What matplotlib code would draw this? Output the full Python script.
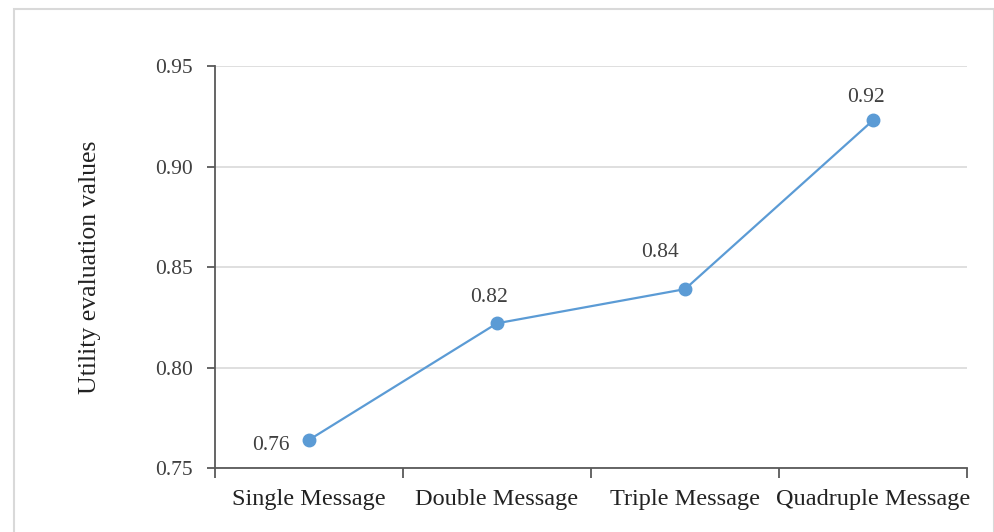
import matplotlib.pyplot as plt
from matplotlib.patches import Rectangle

categories = ["Single Message", "Double Message", "Triple Message", "Quadruple Message"]
utility = [0.764, 0.822, 0.839, 0.923]
y_ticks = [0.75, 0.80, 0.85, 0.90, 0.95]

# label offsets in pixels from each point
label_offsets = [(-38, -6), (-8, 26), (-25, 37), (-7, 23)]

plt.rcParams['font.family'] = ['Liberation Serif', 'DejaVu Serif']

fig = plt.figure(figsize=(9.95, 5.32), dpi=100)
ax = fig.add_axes([0.2161, 0.1203, 0.7558, 0.7556])

# outer chart frame
fig.patches.append(Rectangle((14 / 995, -0.05), 980 / 995, 1.05 - 9 / 532,
                             transform=fig.transFigure, fill=False,
                             edgecolor='#d9d9d9', linewidth=1.5))

x = list(range(len(categories)))
ax.plot(x, utility, color='#5B9BD5', linewidth=1.6, marker='o',
        markersize=9, zorder=3)

for xi, v, (dx, dy) in zip(x, utility, label_offsets):
    ax.annotate(f"{v:.2f}", (xi, v), xytext=(dx, dy), textcoords='offset pixels',
                ha='center', va='center', fontsize=15.5, color='#404040')

ax.set_xlim(-0.5, len(categories) - 0.5)
ax.set_ylim(0.75, 0.95)
ax.set_yticks(y_ticks)
ax.set_yticklabels([f"{t:.2f}" for t in y_ticks])
ax.set_xticks(x)
ax.set_xticklabels(categories)
ax.set_xticks([i - 0.5 for i in range(len(categories) + 1)], minor=True)

ax.grid(axis='y', color='#d9d9d9', linewidth=1.2)
ax.set_axisbelow(True)
for side in ['top', 'right']:
    ax.spines[side].set_visible(False)
for side in ['left', 'bottom']:
    ax.spines[side].set_color('#595959')
    ax.spines[side].set_linewidth(1.3)

ax.tick_params(axis='y', length=6, width=1.3, color='#595959',
               labelsize=15.5, labelcolor='#404040', pad=10)
ax.tick_params(axis='x', which='major', length=0, labelsize=17.5,
               labelcolor='#222222', pad=15)
ax.tick_params(axis='x', which='minor', length=7, width=1.3, color='#595959')

ax.set_ylabel("Utility evaluation values", fontsize=18.5, color='#222222', labelpad=39)

fig.savefig("out.png", dpi=100)
